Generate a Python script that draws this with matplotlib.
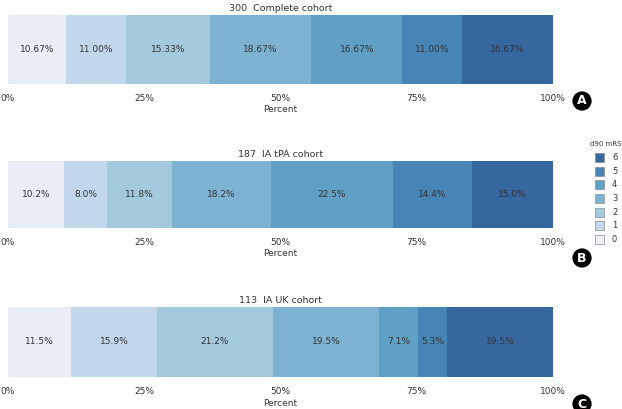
import matplotlib
matplotlib.use("Agg")
import matplotlib.pyplot as plt
from matplotlib.patches import Rectangle
import numpy as np

# d90 mRS distribution per cohort (percent)
levels = ['0', '1', '2', '3', '4', '5', '6']
complete = [10.67, 11.00, 15.33, 18.67, 16.67, 11.00, 16.67]
ia_tpa = [10.2, 8.0, 11.8, 18.2, 22.5, 14.4, 15.0]
ia_uk = [11.5, 15.9, 21.2, 19.5, 7.1, 5.3, 19.5]
titles = ['300  Complete cohort', '187  IA tPA cohort', '113  IA UK cohort']
panel_tags = ['A', 'B', 'C']
label_fmt = ['{:.2f}%', '{:.1f}%', '{:.1f}%']

colors = ['#e8edf6', '#c3d7ec', '#a3c9dc', '#7db2d2', '#61a0c5', '#4785b6', '#37679f']

W, H = 622, 409
fig = plt.figure(figsize=(W / 100, H / 100), dpi=100)

# bar top/bottom in pixel rows for each panel
bar_rows = [(15, 84), (161, 228), (307, 377)]
x0, x1 = 8, 553

for k, vals in enumerate([complete, ia_tpa, ia_uk]):
    top, bot = bar_rows[k]
    ax = fig.add_axes([x0 / W, 1 - bot / H, (x1 - x0) / W, (bot - top) / H])
    left = 0
    for v, c in zip(vals, colors):
        ax.barh(0, v, left=left, height=1, color=c, edgecolor='none')
        ax.text(left + v / 2, 0, label_fmt[k].format(v), ha='center', va='center',
                fontsize=6.5, color='#333333')
        left += v
    ax.set_xlim(0, 100)
    ax.set_ylim(-0.5, 0.5)
    ax.set_yticks([])
    ax.set_xticks([0, 25, 50, 75, 100])
    ax.set_xticklabels(['0%', '25%', '50%', '75%', '100%'], fontsize=6.5, color='#333333')
    ax.tick_params(axis='x', length=0, pad=7)
    for s in ax.spines.values():
        s.set_visible(False)
    ax.set_title(titles[k], fontsize=6.8, color='#333333', pad=3)
    ax.set_xlabel('Percent', fontsize=6.5, color='#333333', labelpad=2)

# panel tags
tag_y = [101, 258, 404]
for t, y in zip(panel_tags, tag_y):
    fig.text(582 / W, 1 - y / H, t, ha='center', va='center', fontsize=9,
             color='white', fontweight='bold',
             bbox=dict(boxstyle='circle,pad=0.25', fc='black', ec='none'))

# legend: d90 mRS, 6 on top
fig.text(606 / W, 1 - 144 / H, 'd90 mRS', ha='center', va='center', fontsize=5,
         color='#333333')
for i, (lv, c) in enumerate(zip(levels[::-1], colors[::-1])):
    yc = 157.5 + i * 13.7
    fig.add_artist(Rectangle((595 / W, 1 - (yc + 4.5) / H), 9 / W, 9 / H,
                             transform=fig.transFigure, facecolor=c,
                             edgecolor='#8a8a8a', linewidth=0.5))
    fig.text(612 / W, 1 - yc / H, lv, ha='left', va='center', fontsize=6, color='#333333')

fig.savefig('out.png', dpi=100)
